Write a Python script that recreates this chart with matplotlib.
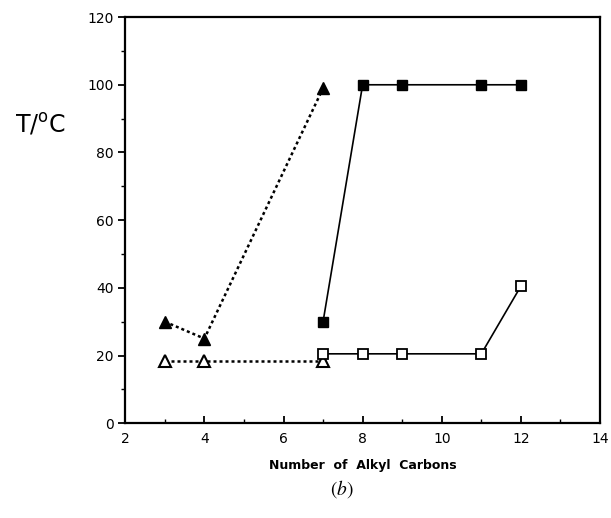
import numpy as np
import matplotlib.pyplot as plt
from matplotlib.ticker import MultipleLocator

# data
x_tri = [3, 4, 7]
tri_filled = [30, 25, 99]
tri_open = [18.5, 18.5, 18.5]

x_sq = [7, 8, 9, 11, 12]
sq_filled = [30, 100, 100, 100, 100]
sq_open = [20.5, 20.5, 20.5, 20.5, 40.5]

fig = plt.figure(figsize=(6.11, 5.18), dpi=100)
ax = fig.add_axes([0.205, 0.183, 0.777, 0.784])

dots = (0, (1.2, 1.2))
ax.plot(x_tri, tri_filled, ls=dots, color='black', lw=1.8, marker='^', ms=9,
        mfc='black', mec='black')
ax.plot(x_tri, tri_open, ls=dots, color='black', lw=1.8, marker='^', ms=9,
        mfc='white', mec='black', mew=1.5)
ax.plot(x_sq, sq_filled, '-', color='black', lw=1.2, marker='s', ms=7.5,
        mfc='black', mec='black')
ax.plot(x_sq, sq_open, '-', color='black', lw=1.2, marker='s', ms=7.5,
        mfc='white', mec='black', mew=1.3)

ax.set_xlim(2, 14)
ax.set_ylim(0, 120)
ax.xaxis.set_major_locator(MultipleLocator(2))
ax.xaxis.set_minor_locator(MultipleLocator(1))
ax.yaxis.set_major_locator(MultipleLocator(20))
ax.yaxis.set_minor_locator(MultipleLocator(10))
ax.tick_params(axis='x', which='both', direction='in', labelsize=10, pad=6)
ax.tick_params(axis='y', which='both', direction='out', labelsize=10)
ax.tick_params(which='major', length=5, width=1.3)
ax.tick_params(which='minor', length=3, width=1.0)
for s in ax.spines.values():
    s.set_linewidth(1.6)

ax.set_xlabel('Number  of  Alkyl  Carbons', fontsize=9, fontweight='bold',
              labelpad=10)
fig.text(0.025, 0.76, 'T/$^{\\rm o}$C', fontsize=17, va='center')
fig.text(0.56, 0.055, r'$(b)$', fontsize=14, math_fontfamily='stix',
         ha='center', va='center')

plt.savefig('out.png', dpi=100)
